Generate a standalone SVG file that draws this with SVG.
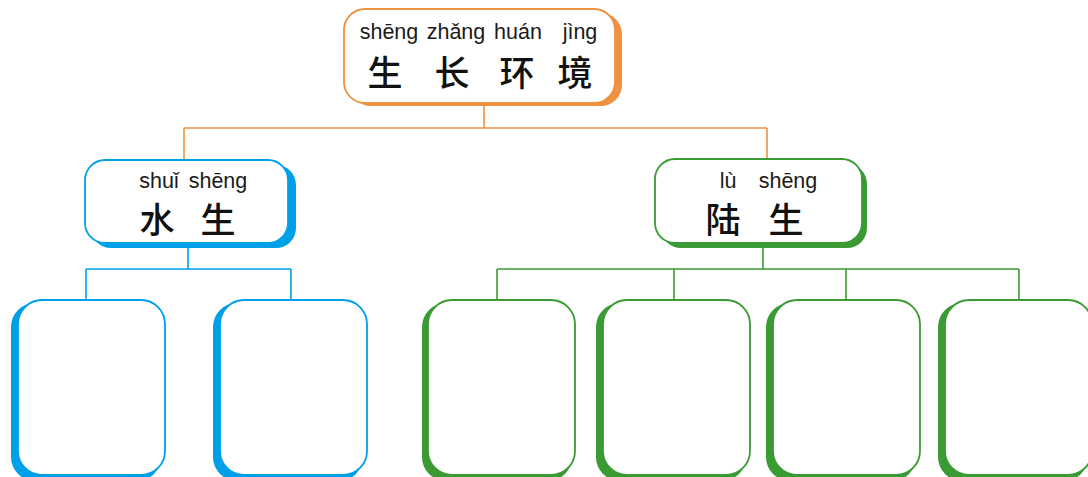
<svg xmlns="http://www.w3.org/2000/svg" width="1088" height="477" viewBox="0 0 1088 477">
<style>
.py{font-family:"Liberation Sans","Noto Sans",Arial,sans-serif;font-size:21.5px;fill:#1a1a1a;text-anchor:middle}
.zh{font-family:"Noto Sans CJK SC","Noto Sans CJK TC",sans-serif;font-size:35px;font-weight:500;fill:#111;text-anchor:middle}
.box{fill:#fff;stroke-width:1.8}
.o{stroke:#ef9140}.ob{fill:#ef9140}
.b{stroke:#00a0e9}.bb{fill:#00a0e9}
.g{stroke:#3a9a34}.gb{fill:#3a9a34}
.ln{fill:none;stroke-width:1.6}
</style>
<rect width="1088" height="477" fill="#fff"/>
<g id="connectors">
<path class="ln o" d="M484 106V128M184 128H767M184 128V160M767 128V159"/>
<path class="ln b" d="M188 248V269M86 269H291M86 269V300M291 269V300"/>
<path class="ln g" d="M763 248V269M497 269H1019M497 269V300M674 269V300M846 269V300M1019 269V300"/>
</g>
<g id="node-top">
<rect class="ob" x="350" y="13" width="272" height="93" rx="21"/>
<rect class="box o" x="344" y="9" width="271" height="94" rx="21"/>
<text class="py" x="389" y="39">shēng</text>
<text class="py" x="456" y="39">zhǎng</text>
<text class="py" x="518" y="39">huán</text>
<text class="py" x="580" y="39">jìng</text>
<text class="zh" x="385" y="86">生</text>
<text class="zh" x="452" y="86">长</text>
<text class="zh" x="517" y="86">环</text>
<text class="zh" x="575" y="86">境</text>
</g>
<g id="node-water">
<rect class="bb" x="91" y="165" width="205" height="83" rx="20"/>
<rect class="box b" x="85" y="160" width="203" height="83" rx="20"/>
<text class="py" x="159" y="188">shuǐ</text>
<text class="py" x="218" y="188">shēng</text>
<text class="zh" x="157" y="233">水</text>
<text class="zh" x="218" y="233">生</text>
</g>
<g id="node-land">
<rect class="gb" x="661" y="164" width="206" height="84" rx="20"/>
<rect class="box g" x="655" y="159" width="207" height="84" rx="20"/>
<text class="py" x="728" y="188">lù</text>
<text class="py" x="788" y="188">shēng</text>
<text class="zh" x="723" y="233">陆</text>
<text class="zh" x="786" y="233">生</text>
</g>
<g id="water-box-1">
<rect class="bb" x="11" y="303" width="150" height="178" rx="24"/>
<rect class="box b" x="18" y="300" width="147" height="175" rx="24"/>
</g>
<g id="water-box-2">
<rect class="bb" x="213" y="303" width="150" height="178" rx="24"/>
<rect class="box b" x="220" y="300" width="147" height="175" rx="24"/>
</g>
<g id="land-box-1">
<rect class="gb" x="422" y="303" width="150" height="178" rx="24"/>
<rect class="box g" x="428" y="300" width="147" height="175" rx="24"/>
</g>
<g id="land-box-2">
<rect class="gb" x="596" y="303" width="150" height="178" rx="24"/>
<rect class="box g" x="603" y="300" width="147" height="175" rx="24"/>
</g>
<g id="land-box-3">
<rect class="gb" x="766" y="303" width="150" height="178" rx="24"/>
<rect class="box g" x="773" y="300" width="147" height="175" rx="24"/>
</g>
<g id="land-box-4">
<rect class="gb" x="938" y="303" width="150" height="178" rx="24"/>
<rect class="box g" x="945" y="300" width="147" height="175" rx="24"/>
</g>
</svg>
